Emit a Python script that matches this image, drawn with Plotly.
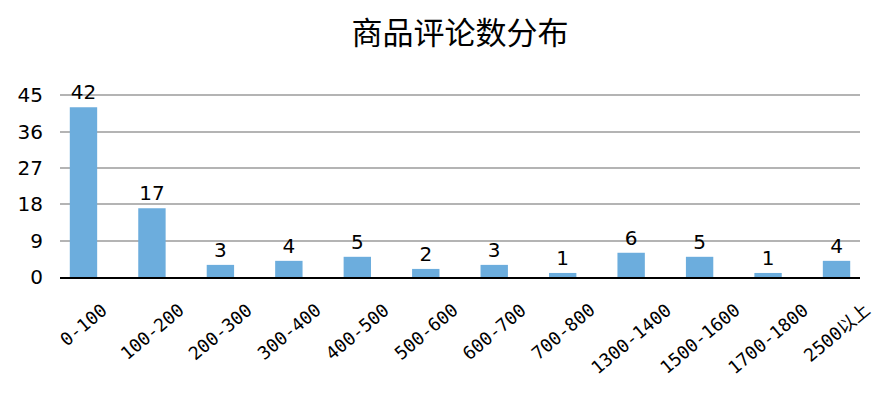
import plotly.graph_objects as go

categories = ["0-100", "100-200", "200-300", "300-400", "400-500", "500-600",
              "600-700", "700-800", "1300-1400", "1500-1600", "1700-1800", "2500以上"]
counts = [42, 17, 3, 4, 5, 2, 3, 1, 6, 5, 1, 4]
y_ticks = [0, 9, 18, 27, 36, 45]

fig = go.Figure(go.Bar(
    x=categories, y=counts,
    marker=dict(color="#6CADDD", line=dict(width=0)),
    width=0.4,
    text=[str(v) for v in counts],
    textposition="outside",
    textfont=dict(family="DejaVu Sans", size=20, color="black"),
    cliponaxis=False,
))

# x tick labels, rotated about their centre and hung below the axis
for c in categories:
    fig.add_annotation(
        x=c, xref="x", y=0, yref="paper",
        text=c, showarrow=False, textangle=-40,
        xanchor="center", yanchor="top", yshift=-19,
        font=dict(family="DejaVu Sans Mono, Noto Sans CJK SC", size=18, color="black"),
    )

fig.update_layout(
    width=894, height=394,
    margin=dict(l=60, r=34, t=94, b=117),
    paper_bgcolor="white", plot_bgcolor="white",
    title=dict(text="商品评论数分布", x=0.5, xref="paper", y=0.915, yref="container",
               xanchor="center", yanchor="middle",
               font=dict(family="Noto Sans CJK SC", size=31, color="black")),
    showlegend=False,
)
fig.update_xaxes(
    type="category", range=[-0.343, 11.343],
    showticklabels=False,
    showline=True, linecolor="black", linewidth=2,
    showgrid=False, ticks="",
)
fig.update_yaxes(
    range=[0, 45.3], tickvals=y_ticks,
    tickfont=dict(family="DejaVu Sans", size=20, color="black"),
    showgrid=True, gridcolor="#B4B4B4", gridwidth=1.5,
    zeroline=False, showline=False, ticks="", ticklabelstandoff=16,
)

fig.write_html("out.html")
